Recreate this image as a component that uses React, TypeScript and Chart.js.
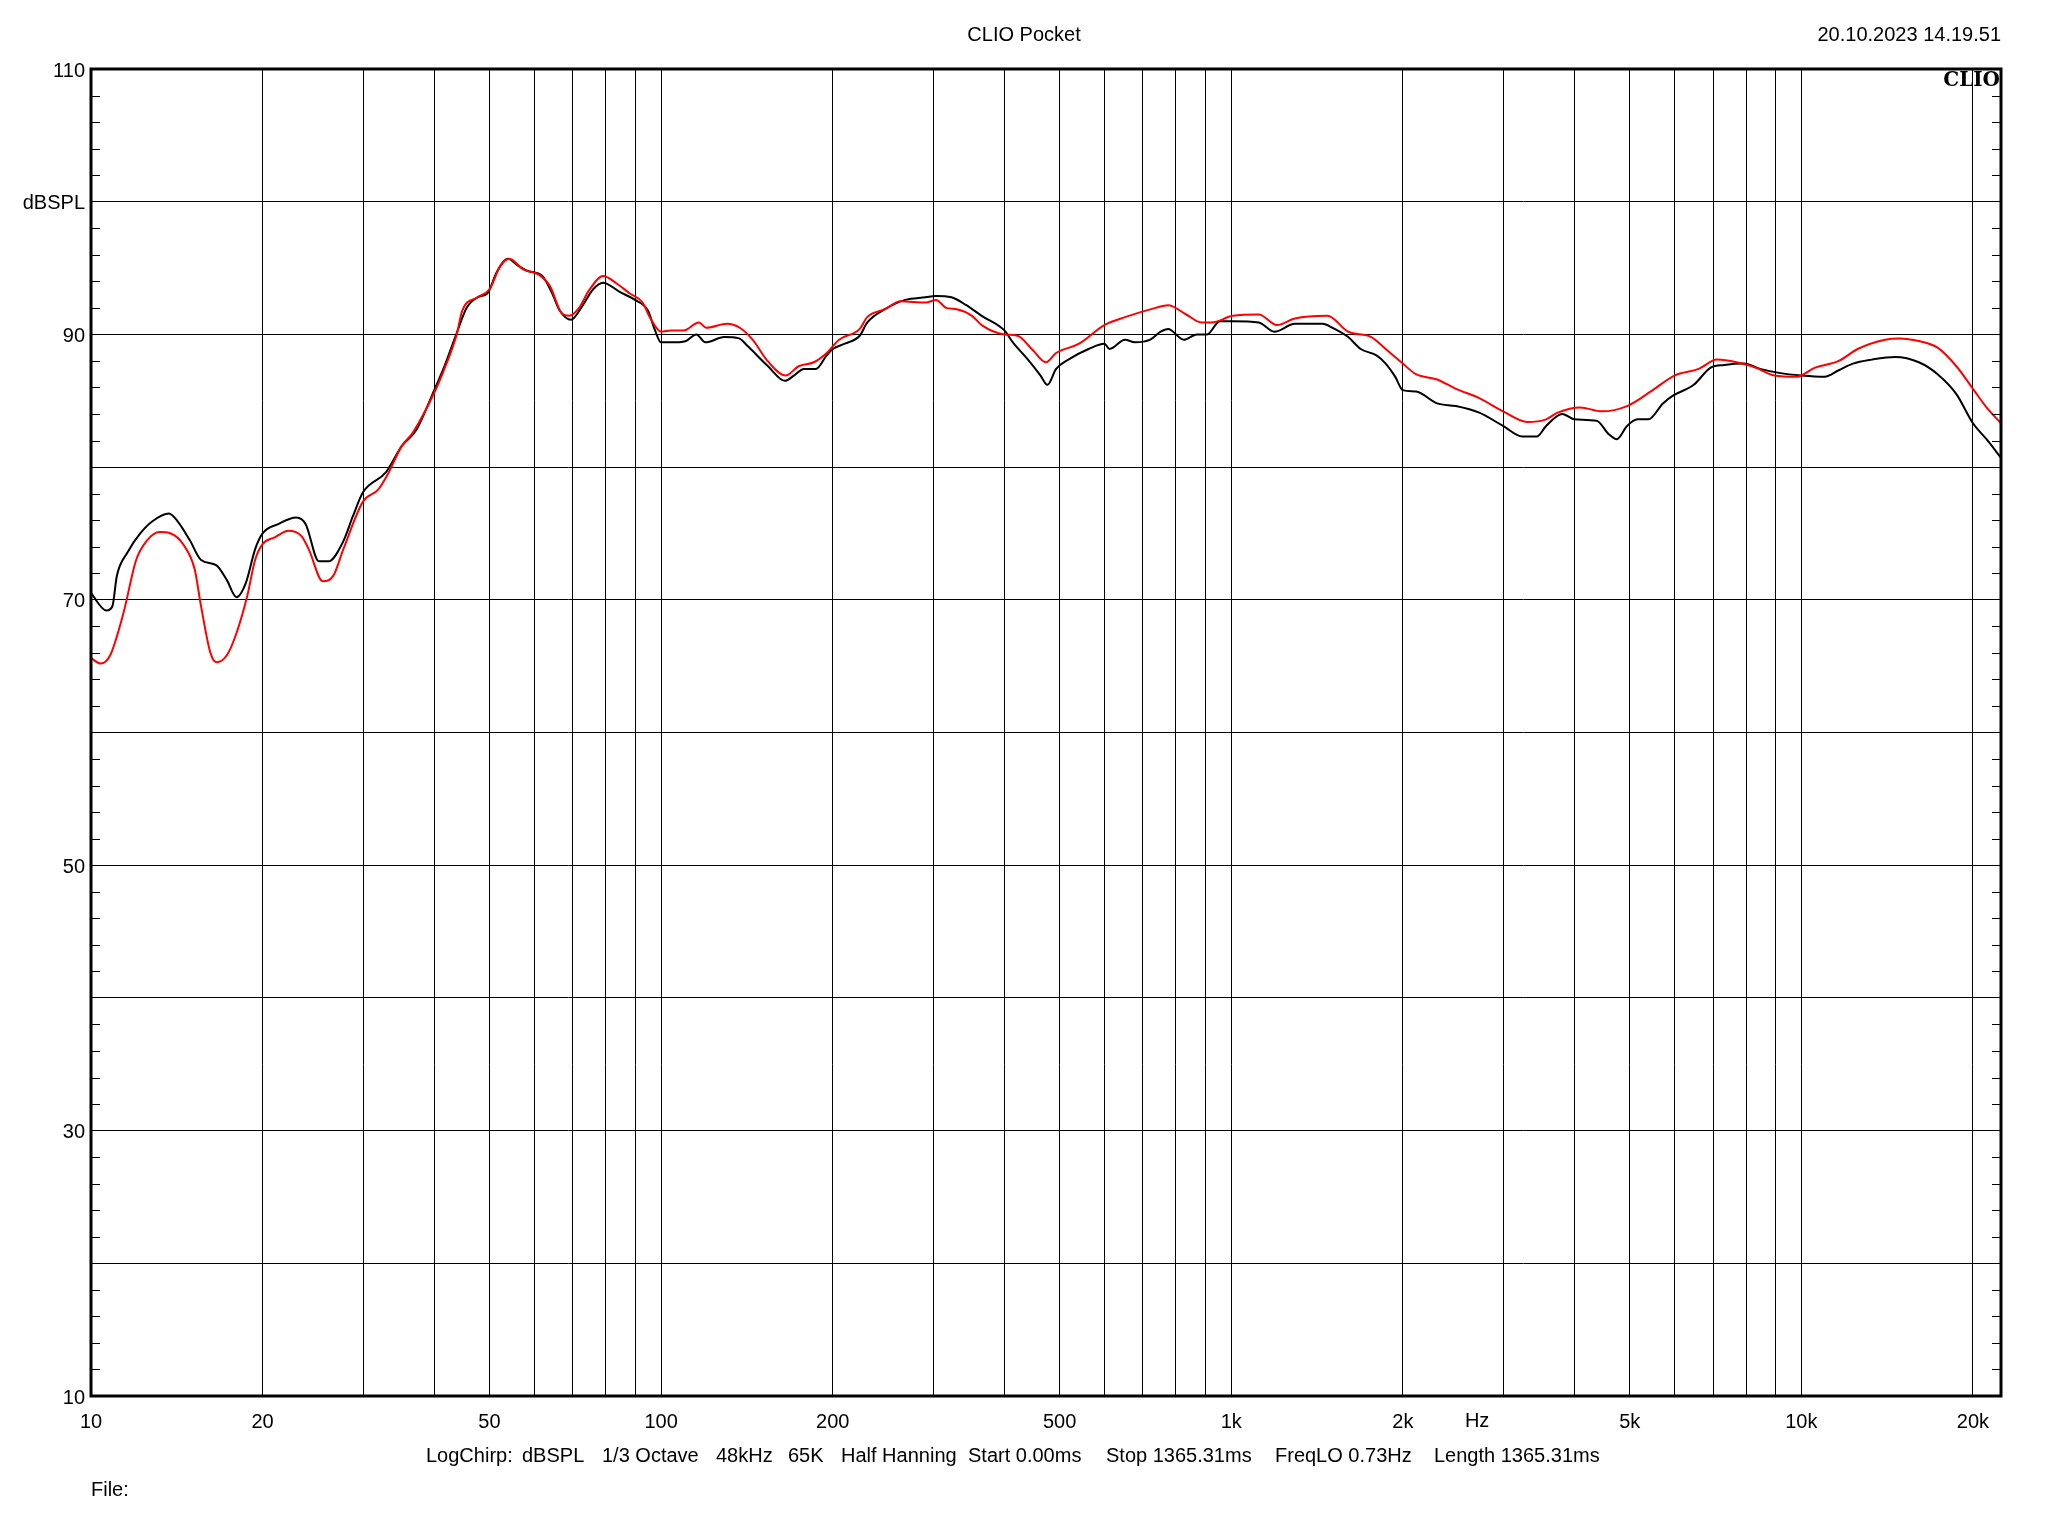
import React, { useEffect, useRef } from "react";
import { Chart, registerables } from "chart.js";

Chart.register(...registerables);

// ---------- data ----------
const blackFreq = [
  10, 10.64, 10.9, 11.1, 11.6, 12.2, 12.8, 13.7, 14.2, 14.9, 15.6, 16.6, 17.3, 18.0, 18.7, 19.4,
  20, 21.3, 22.9, 23.8, 25.1, 26.1, 27.7, 28.8, 30, 32.9, 35.1, 37.2, 40, 41.5, 43.8, 45.6, 47.7,
  49.6, 51.5, 53.9, 56.0, 58.2, 61.9, 64.4, 66.4, 69.5, 72.4, 76.0, 79.1, 84.6, 90, 94.8, 97.4,
  100, 106, 110.6, 115.3, 119.6, 129, 137, 142, 154, 165, 171, 178, 187, 195, 200, 210, 223, 230,
  247, 268, 291, 303, 323, 343, 365, 400, 414, 440, 463, 476, 493, 518, 562, 599, 612, 651, 678,
  721, 752, 775, 826, 870, 907, 955, 1006, 1118, 1190, 1293, 1447, 1505, 1604, 1687, 1801, 1866,
  1940, 2000, 2109, 2297, 2478, 2723, 2999, 3241, 3435, 3568, 3809, 4000, 4376, 4589, 4747, 4947,
  5162, 5392, 5718, 5964, 6476, 6935, 7328, 7932, 8465, 9139, 10000, 10985, 11632, 12316, 13287,
  14614, 16073, 17339, 18706, 20000, 21128, 22400,
];
const blackDb = [
  70.5, 69.2, 69.5, 71.8, 73.6, 75.0, 75.9, 76.5, 75.9, 74.5, 73.0, 72.6, 71.5, 70.2, 71.3, 73.8,
  75.0, 75.7, 76.2, 75.7, 72.9, 72.9, 74.4, 76.3, 78.1, 79.6, 81.6, 82.8, 85.8, 87.4, 90.1, 92.0, 92.8,
  93.1, 94.7, 95.7, 95.2, 94.8, 94.4, 93.1, 91.8, 91.1, 92.0, 93.4, 93.9, 93.2, 92.6, 91.8, 90.4,
  89.4, 89.4, 89.5, 90.0, 89.4, 89.8, 89.7, 89.1, 87.6, 86.5, 86.9, 87.4, 87.4, 88.4, 88.9, 89.3, 89.9, 90.9,
  91.9, 92.6, 92.8, 92.9, 92.8, 92.2, 91.4, 90.3, 89.4, 88.1, 86.9, 86.2, 87.4, 88.1, 88.9, 89.3, 88.9, 89.6, 89.4,
  89.6, 90.2, 90.4, 89.6, 90.0, 90.0, 91.0, 91.0, 90.9, 90.2, 90.8, 90.8, 90.5, 89.8, 88.9, 88.4, 87.8,
  86.8, 85.8, 85.7, 84.8, 84.6, 84.1, 83.1, 82.3, 82.3, 83.1, 84.0, 83.6, 83.5, 82.5, 82.1, 83.1,
  83.6, 83.6, 84.8, 85.4, 86.2, 87.5, 87.7, 87.8, 87.4, 87.1, 86.9, 86.8, 87.3, 87.8, 88.1,
  88.3, 87.9, 87.0, 85.5, 83.3, 82.1, 80.7,
];

const redFreq = [
  10, 10.4, 10.8, 11.4, 12.0, 12.5, 13.2, 13.8, 14.5, 15.2, 15.6, 16.2, 16.6, 17.3, 18.0, 18.8, 19.4,
  20, 21.0, 22.2, 23.4, 24.1, 25.5, 26.6, 27.7, 30, 31.9, 33.1, 35.1, 36.7, 40, 41.5, 43.8, 44.8,
  47.7, 50.0, 52.3, 54.2, 57.3, 61.0, 63.9, 66.9, 69.0, 71.8, 74.7, 79.1, 83.8, 88, 92.8, 95.8,
  100, 104, 109.5, 116.5, 120, 130.5, 137.4, 144.7, 153.7, 165.3, 174.3, 185.3, 195.3, 205.2, 222.9,
  229.9, 247.1, 262.8, 291.3, 303.5, 316.4, 330, 351, 365, 400, 422, 449, 473, 493, 541, 599, 651,
  737, 775, 834, 887, 924, 1006, 1118, 1203, 1293, 1475, 1604, 1761, 1866, 2000, 2109, 2297, 2478,
  2723, 2999, 3307, 3568, 3736, 4093, 4464, 4947, 5446, 5990, 6608, 7116, 7701, 8308, 8969, 9790,
  10575, 11632, 12553, 14027, 14860, 16073, 17339, 18706, 20000, 21128, 22400,
];
const redDb = [
  65.6, 65.2, 65.8, 69.0, 73.0, 74.4, 75.1, 75.0, 74.2, 72.3, 69.5, 66.0, 65.3, 65.8, 67.5, 70.3, 73.0,
  74.2, 74.7, 75.2, 74.8, 73.8, 71.4, 71.8, 73.8, 77.4, 78.3, 79.4, 81.6, 82.6, 85.6, 87.2, 90.0, 91.8,
  92.8, 93.4, 95.2, 95.7, 94.9, 94.5, 93.6, 91.6, 91.4, 92.0, 93.3, 94.4, 93.8, 93.1, 92.4, 91.2,
  90.2, 90.3, 90.3, 90.9, 90.5, 90.8, 90.5, 89.6, 88.0, 86.9, 87.6, 87.9, 88.6, 89.6, 90.4,
  91.3, 91.9, 92.5, 92.4, 92.6, 92.0, 91.9, 91.4, 90.7, 90.0, 89.9, 88.8, 87.9, 88.6, 89.3, 90.7, 91.3,
  92.0, 92.2, 91.5, 90.9, 90.9, 91.4, 91.5, 90.7, 91.2, 91.4, 90.2, 89.8, 88.9, 87.8, 87.0, 86.6, 85.9,
  85.2, 84.2, 83.4, 83.6, 84.1, 84.5, 84.2, 84.6, 85.7, 86.9, 87.4, 88.1, 87.9, 87.5, 86.9, 86.8,
  87.5, 88.0, 88.9, 89.6, 89.7, 89.5, 89.0, 87.6, 85.9, 84.5, 83.3,
];

const xGridFreqs = [
  10, 20, 30, 40, 50, 60, 70, 80, 90, 100, 200, 300, 400, 500, 600, 700, 800, 900,
  1000, 2000, 3000, 4000, 5000, 6000, 7000, 8000, 9000, 10000, 20000,
];
const xLabelFreqs = [10, 20, 50, 100, 200, 500, 1000, 2000, 5000, 10000, 20000];
const xLabelTexts = ["10", "20", "50", "100", "200", "500", "1k", "2k", "5k", "10k", "20k"];
const yGridValues = [10, 20, 30, 40, 50, 60, 70, 80, 90, 100, 110];
const yLabelValues = [10, 30, 50, 70, 90, 100, 110];
const yLabelTexts = ["10", "30", "50", "70", "90", "dBSPL", "110"];
const yMinorTicks = [
  12, 14, 16, 18, 22, 24, 26, 28, 32, 34, 36, 38, 42, 44, 46, 48, 52, 54, 56, 58,
  62, 64, 66, 68, 72, 74, 76, 78, 82, 84, 86, 88, 92, 94, 96, 98, 102, 104, 106, 108,
];

const X_MIN = 10;
const X_MAX = 22400;
const Y_MIN = 10;
const Y_MAX = 110;
const UNIT_FREQ = 2700;

const titleText = "CLIO Pocket";
const dateText = "20.10.2023 14.19.51";
const brandText = "CLIO";
const unitText = "Hz";
const fileText = "File:";
const infoItems = [
  "LogChirp:",
  "dBSPL",
  "1/3 Octave",
  "48kHz",
  "65K",
  "Half Hanning",
  "Start 0.00ms",
  "Stop 1365.31ms",
  "FreqLO 0.73Hz",
  "Length 1365.31ms",
];
const infoX = [426, 522, 602, 716, 788, 841, 968, 1106, 1275, 1434];

const FONT = "'Liberation Sans', Arial, sans-serif";

export default function App() {
  const ref = useRef<HTMLCanvasElement>(null);

  useEffect(() => {
    const canvas = ref.current;
    if (!canvas) return;

    const extras = {
      id: "clioExtras",
      afterDraw(chart: any) {
        const { ctx, chartArea: a, scales } = chart;
        const ys = scales.y;
        const xs = scales.x;
        ctx.save();
        // minor ticks on left and right
        ctx.strokeStyle = "#000";
        ctx.lineWidth = 1;
        ctx.beginPath();
        for (const v of yMinorTicks) {
          const py = Math.round(ys.getPixelForValue(v)) + 0.5;
          ctx.moveTo(a.left, py);
          ctx.lineTo(a.left + 9, py);
          ctx.moveTo(a.right - 9, py);
          ctx.lineTo(a.right, py);
        }
        ctx.stroke();
        // frame
        ctx.lineWidth = 3;
        ctx.strokeRect(a.left, a.top, a.right - a.left, a.bottom - a.top);

        ctx.fillStyle = "#000";
        ctx.font = `20px ${FONT}`;
        ctx.textBaseline = "middle";
        ctx.textAlign = "center";
        ctx.fillText(titleText, 1024, 35);
        ctx.textAlign = "right";
        ctx.fillText(dateText, a.right, 35);
        // unit label
        ctx.textAlign = "center";
        ctx.fillText(unitText, xs.getPixelForValue(UNIT_FREQ), a.bottom + 25);
        // info line
        ctx.textAlign = "left";
        infoItems.forEach((t, i) => ctx.fillText(t, infoX[i], 1456));
        ctx.fillText(fileText, a.left, 1490);
        // brand
        ctx.font = `bold 20px 'DejaVu Serif', serif`;
        ctx.textAlign = "right";
        ctx.fillText(brandText, a.right - 1, a.top + 12);
        ctx.restore();
      },
    };

    const chart = new Chart(canvas, {
      type: "line",
      data: {
        datasets: [
          {
            label: "red",
            data: redFreq.map((f, i) => ({ x: f, y: redDb[i] })),
            borderColor: "#ff0000",
            borderWidth: 2,
            pointRadius: 0,
            fill: false,
            cubicInterpolationMode: "monotone",
          },
          {
            label: "black",
            data: blackFreq.map((f, i) => ({ x: f, y: blackDb[i] })),
            borderColor: "#000000",
            borderWidth: 2,
            pointRadius: 0,
            fill: false,
            cubicInterpolationMode: "monotone",
          },
        ],
      },
      options: {
        responsive: false,
        animation: false,
        events: [],
        layout: { padding: { left: 0, top: 69, right: 47, bottom: 0 } },
        plugins: { legend: { display: false }, tooltip: { enabled: false }, title: { display: false } },
        scales: {
          x: {
            type: "logarithmic",
            min: X_MIN,
            max: X_MAX,
            afterBuildTicks: (s: any) => {
              s.ticks = xGridFreqs.map((v) => ({ value: v }));
            },
            afterFit: (s: any) => {
              s.height = 140;
            },
            ticks: {
              autoSkip: false,
              maxRotation: 0,
              minRotation: 0,
              padding: 14,
              color: "#000",
              font: { family: FONT, size: 20 },
              callback: (v: any) => {
                const idx = xLabelFreqs.indexOf(Number(v));
                return idx >= 0 ? xLabelTexts[idx] : "";
              },
            },
            grid: { color: "#000", lineWidth: 1, drawTicks: false },
            border: { display: false },
          },
          y: {
            type: "linear",
            min: Y_MIN,
            max: Y_MAX,
            afterBuildTicks: (s: any) => {
              s.ticks = yGridValues.map((v) => ({ value: v }));
            },
            afterFit: (s: any) => {
              s.width = 91;
            },
            ticks: {
              autoSkip: false,
              padding: 6,
              labelOffset: 2,
              color: "#000",
              font: { family: FONT, size: 20 },
              callback: (v: any) => {
                const idx = yLabelValues.indexOf(Number(v));
                return idx >= 0 ? yLabelTexts[idx] : "";
              },
            },
            grid: { color: "#000", lineWidth: 1, drawTicks: false },
            border: { display: false },
          },
        },
      },
      plugins: [extras],
    } as any);

    return () => chart.destroy();
  }, []);

  return (
    <div style={{ position: "absolute", left: 0, top: 0, width: 2048, height: 1536, background: "#fff" }}>
      <canvas ref={ref} width={2048} height={1536} style={{ display: "block", width: 2048, height: 1536 }} />
    </div>
  );
}
